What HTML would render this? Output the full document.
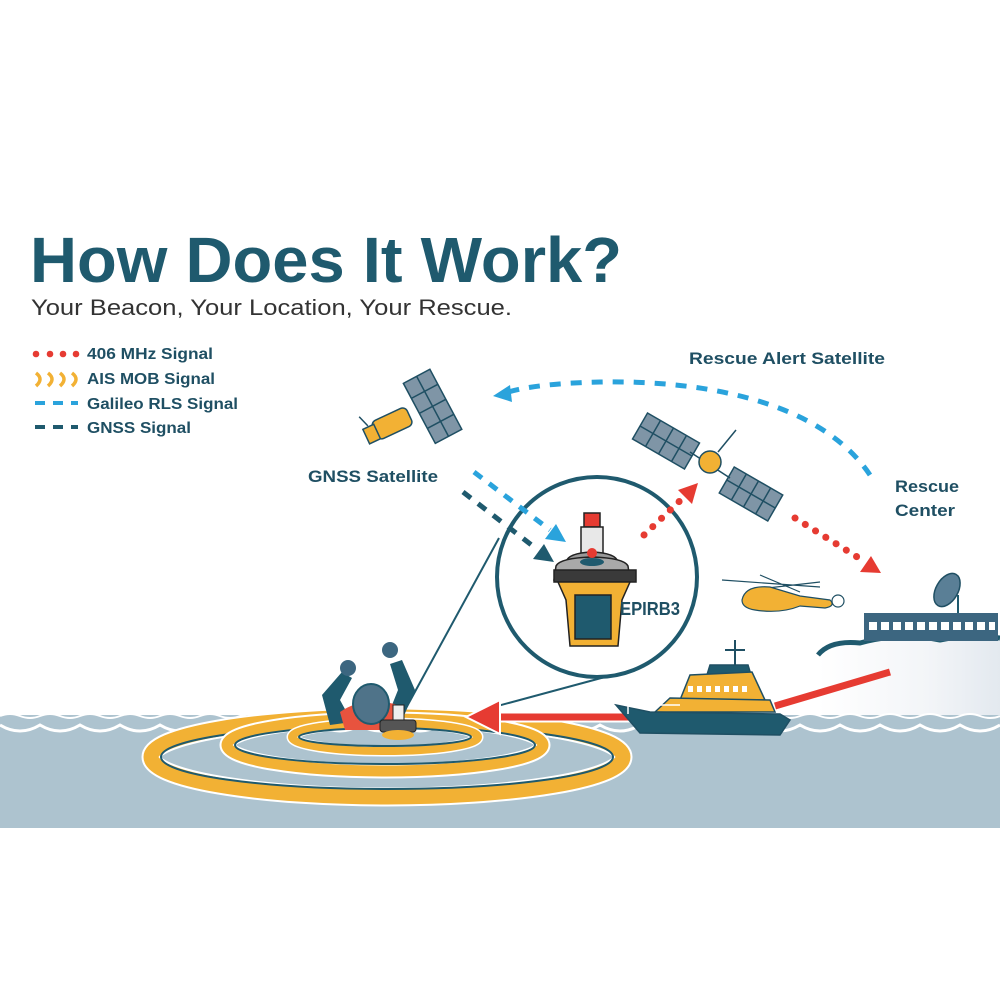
<!DOCTYPE html>
<html><head><meta charset="utf-8"><style>
html,body{margin:0;padding:0;background:#fff;width:1000px;height:1000px;overflow:hidden}
svg{display:block}
text{font-family:"Liberation Sans","DejaVu Sans",sans-serif}
</style></head><body>
<svg width="1000" height="1000" viewBox="0 0 1000 1000" xmlns="http://www.w3.org/2000/svg">
<defs>
<linearGradient id="cliff" x1="0" x2="1" y1="0" y2="0"><stop offset="0" stop-color="#fff"/><stop offset="0.6" stop-color="#f3f5f8"/><stop offset="1" stop-color="#e3e9ef"/></linearGradient>
</defs>
<!-- Title -->
<text x="30" y="282" font-size="64" font-weight="bold" fill="#1f5a6e" textLength="592" lengthAdjust="spacingAndGlyphs">How Does It Work?</text>
<text x="31" y="315" font-size="22" fill="#333" textLength="481" lengthAdjust="spacingAndGlyphs">Your Beacon, Your Location, Your Rescue.</text>
<!-- Legend -->
<g fill="#e63b32"><circle cx="36" cy="354" r="3.3"/><circle cx="50" cy="354" r="3.3"/><circle cx="63" cy="354" r="3.3"/><circle cx="76" cy="354" r="3.3"/></g>
<g fill="none" stroke="#f2b134" stroke-width="3.5"><path d="M36,373 q8,6 0,13"/><path d="M48,373 q8,6 0,13"/><path d="M60,373 q8,6 0,13"/><path d="M72,373 q8,6 0,13"/></g>
<line x1="35" y1="403" x2="78" y2="403" stroke="#2aa3dc" stroke-width="4" stroke-dasharray="10,8"/>
<line x1="35" y1="427" x2="78" y2="427" stroke="#1f5a6e" stroke-width="4" stroke-dasharray="10,8"/>
<g font-size="16" fill="#1f4f63" font-weight="bold">
<text x="87" y="359" textLength="126" lengthAdjust="spacingAndGlyphs">406 MHz Signal</text>
<text x="87" y="384" textLength="128" lengthAdjust="spacingAndGlyphs">AIS MOB Signal</text>
<text x="87" y="409" textLength="151" lengthAdjust="spacingAndGlyphs">Galileo RLS Signal</text>
<text x="87" y="433" textLength="104" lengthAdjust="spacingAndGlyphs">GNSS Signal</text>
<text x="308" y="482" font-size="17" textLength="130" lengthAdjust="spacingAndGlyphs">GNSS Satellite</text>
<text x="689" y="364" font-size="17" textLength="196" lengthAdjust="spacingAndGlyphs">Rescue Alert Satellite</text>
<text x="895" y="492" font-size="17" textLength="64" lengthAdjust="spacingAndGlyphs">Rescue</text>
<text x="895" y="516" font-size="17" textLength="60" lengthAdjust="spacingAndGlyphs">Center</text>
</g>
<!-- GNSS satellite -->
<g stroke="#1f4f63" stroke-width="1.5">
<g transform="translate(433,405) rotate(-28)"><rect x="-16" y="-33" width="30" height="68" fill="#7f95a6"/><path d="M-16,-16H14M-16,1H14M-16,18H14M-1,-33V35" fill="none"/></g>
<g transform="translate(393,423) rotate(-25)"><rect x="-20" y="-10" width="38" height="20" rx="5" fill="#f2b134"/><rect x="-30" y="-7" width="12" height="16" fill="#f2b134"/><line x1="-24" y1="-8" x2="-28" y2="-20"/></g>
</g>
<!-- Rescue alert satellite -->
<g stroke="#1f4f63" stroke-width="1.5">
<g transform="translate(666,441) rotate(30)"><rect x="-30" y="-15" width="60" height="30" fill="#7f95a6"/><path d="M-15,-15V15M0,-15V15M15,-15V15M-30,0H30" fill="none"/></g>
<g transform="translate(751,494) rotate(30)"><rect x="-28" y="-15" width="56" height="30" fill="#7f95a6"/><path d="M-14,-15V15M0,-15V15M14,-15V15M-28,0H28" fill="none"/></g>
<line x1="690" y1="452" x2="730" y2="478"/>
<circle cx="710" cy="462" r="11" fill="#f2b134"/><line x1="718" y1="452" x2="736" y2="430"/>
</g>
<!-- blue arc -->
<path d="M870,475 C820,400 700,380 600,382 C550,383 520,388 505,393" fill="none" stroke="#2aa3dc" stroke-width="5" stroke-dasharray="11,10"/>
<path d="M493,396 L510,385 L512,402z" fill="#2aa3dc"/>
<!-- lines from circle to person -->
<line x1="499" y1="538" x2="405" y2="710" stroke="#1f5a6e" stroke-width="2"/>
<line x1="605" y1="677" x2="390" y2="735" stroke="#1f5a6e" stroke-width="2"/>
<!-- circle -->
<circle cx="597" cy="577" r="100" fill="#fff" stroke="#1f5a6e" stroke-width="4"/>
<!-- red dotted -->
<line x1="644" y1="535" x2="686" y2="495" stroke="#e63b32" stroke-width="7" stroke-linecap="round" stroke-dasharray="0.1,12"/>
<path d="M698,483 L678,490 L692,504z" fill="#e63b32"/>
<line x1="795" y1="518" x2="862" y2="560" stroke="#e63b32" stroke-width="7" stroke-linecap="round" stroke-dasharray="0.1,12"/>
<path d="M881,573 L860,572 L871,556z" fill="#e63b32"/>
<!-- gnss signals -->
<line x1="474" y1="472" x2="550" y2="530" stroke="#2aa3dc" stroke-width="5" stroke-dasharray="10,9"/>
<path d="M566,542 L545,539 L556,524z" fill="#2aa3dc"/>
<line x1="463" y1="492" x2="538" y2="550" stroke="#1f5a6e" stroke-width="5" stroke-dasharray="10,9"/>
<path d="M554,562 L533,559 L544,544z" fill="#1f5a6e"/>
<!-- EPIRB -->
<g stroke="#222" stroke-width="1.5">
<rect x="584" y="513" width="16" height="14" fill="#e63b32"/>
<rect x="581" y="527" width="22" height="28" fill="#e8e8e8"/>
<path d="M566,562 Q568,553 592,552 Q616,553 618,562z" fill="#999"/>
<path d="M556,566 Q560,558 592,557 Q624,558 628,566 L630,580 L554,580z" fill="#a9a9a9"/>
<rect x="554" y="570" width="82" height="12" fill="#3a3a3a"/>
<path d="M558,582 L630,582 L622,600 L618,646 L570,646 L566,600z" fill="#f2b134"/>
<rect x="575" y="595" width="36" height="44" fill="#1f5a6e"/>
</g>
<ellipse cx="592" cy="562" rx="12" ry="4" fill="#1f5a6e"/>
<circle cx="592" cy="553" r="5" fill="#e63b32"/>
<text x="620" y="615" font-size="18" font-weight="bold" fill="#1f4f63" textLength="60" lengthAdjust="spacingAndGlyphs">EPIRB3</text>
<!-- helicopter -->
<g stroke="#1f4f63" stroke-width="1.2">
<path d="M722,580 L820,587 M760,575 L800,592 M750,590 L820,582" fill="none"/>
<path d="M742,600 Q745,585 770,587 L800,596 L830,600 Q836,606 825,608 L800,606 Q780,614 755,610 Q742,608 742,600z" fill="#f2b134"/>
<circle cx="838" cy="601" r="6" fill="#fff"/>
</g>
<!-- building / cliff -->
<path d="M818,655 Q830,640 860,643 Q900,635 940,642 Q970,636 1000,640 L1000,720 L818,720z" fill="url(#cliff)"/>
<path d="M818,655 Q830,640 860,643 Q900,632 940,640 Q970,634 1000,638" fill="none" stroke="#1f5a6e" stroke-width="5"/>
<rect x="864" y="613" width="134" height="28" fill="#3c6680"/>
<g fill="#fff"><rect x="869" y="622" width="8" height="8"/><rect x="881" y="622" width="8" height="8"/><rect x="893" y="622" width="8" height="8"/><rect x="905" y="622" width="8" height="8"/><rect x="917" y="622" width="8" height="8"/><rect x="929" y="622" width="8" height="8"/><rect x="941" y="622" width="8" height="8"/><rect x="953" y="622" width="8" height="8"/><rect x="965" y="622" width="8" height="8"/><rect x="977" y="622" width="8" height="8"/><rect x="989" y="622" width="6" height="8"/></g>
<line x1="958" y1="595" x2="958" y2="613" stroke="#1f5a6e" stroke-width="2"/>
<ellipse cx="947" cy="590" rx="11" ry="18" transform="rotate(30 947 590)" fill="#5a7f96" stroke="#1f4f63" stroke-width="1.5"/>
<!-- water -->
<rect x="0" y="715" width="1000" height="113" fill="#adc3cf"/>
<path d="M0,716 q10,-4 20,0 t20,0 t20,0 t20,0 t20,0 t20,0 t20,0 t20,0 t20,0 t20,0 t20,0 t20,0 t20,0 t20,0 t20,0 t20,0 t20,0 t20,0 t20,0 t20,0 t20,0 t20,0 t20,0 t20,0 t20,0 t20,0 t20,0 t20,0 t20,0 t20,0 t20,0 t20,0 t20,0 t20,0 t20,0 t20,0 t20,0 t20,0 t20,0 t20,0 t20,0 t20,0 t20,0 t20,0 t20,0 t20,0 t20,0 t20,0 t20,0 t20,0" fill="none" stroke="#fff" stroke-width="2"/>
<path d="M0,725 q20,12 40,0 q20,12 40,0 q20,12 40,0 q20,12 40,0 q20,12 40,0 q20,12 40,0 q20,12 40,0 q20,12 40,0 q20,12 40,0 q20,12 40,0 q20,12 40,0 q20,12 40,0 q20,12 40,0 q20,12 40,0 q20,12 40,0 q20,12 40,0 q20,12 40,0 q20,12 40,0 q20,12 40,0 q20,12 40,0 q20,12 40,0 q20,12 40,0 q20,12 40,0 q20,12 40,0 q20,12 40,0" fill="none" stroke="#fff" stroke-width="3"/>
<!-- ripples -->
<g fill="none">
<ellipse cx="387" cy="757" rx="236" ry="40" stroke="#fff" stroke-width="19"/>
<ellipse cx="387" cy="757" rx="236" ry="40" stroke="#f2b134" stroke-width="15"/>
<ellipse cx="387" cy="757" rx="226" ry="32" stroke="#1f5a6e" stroke-width="2"/>
<ellipse cx="385" cy="745" rx="158" ry="26" stroke="#fff" stroke-width="15"/>
<ellipse cx="385" cy="745" rx="158" ry="26" stroke="#f2b134" stroke-width="11"/>
<ellipse cx="385" cy="745" rx="150" ry="19" stroke="#1f5a6e" stroke-width="2"/>
<ellipse cx="385" cy="737" rx="93" ry="14" stroke="#fff" stroke-width="11"/>
<ellipse cx="385" cy="737" rx="93" ry="14" stroke="#f2b134" stroke-width="8"/>
<ellipse cx="385" cy="737" rx="86" ry="9" stroke="#1f5a6e" stroke-width="2"/>
</g>
<!-- person -->
<g>
<path d="M330,725 L322,695 L342,672 L352,678 L340,700 L352,722z" fill="#1f5a6e"/>
<path d="M400,725 L415,690 L402,660 L390,664 L398,690 L386,720z" fill="#1f5a6e"/>
<circle cx="348" cy="668" r="8" fill="#3c6680"/><circle cx="390" cy="650" r="8" fill="#3c6680"/>
<path d="M340,712 Q365,695 398,705 L398,730 L345,730z" fill="#e8533e"/>
<ellipse cx="371" cy="704" rx="18" ry="20" fill="#4f7389" stroke="#1f5a6e" stroke-width="2"/>
<rect x="393" y="705" width="11" height="16" fill="#eee" stroke="#222"/>
<rect x="380" y="720" width="36" height="12" rx="3" fill="#555" stroke="#222"/>
<ellipse cx="398" cy="735" rx="16" ry="5" fill="#f2b134"/>
</g>
<!-- red arrows -->
<line x1="890" y1="672" x2="775" y2="706" stroke="#e63b32" stroke-width="7"/>
<line x1="500" y1="717" x2="640" y2="717" stroke="#fff" stroke-width="11"/>
<line x1="495" y1="717" x2="640" y2="717" stroke="#e63b32" stroke-width="7"/>
<path d="M466,717 L500,700 L500,734z" fill="#e63b32" stroke="#fff" stroke-width="2"/>
<!-- boat -->
<g stroke="#1f4f63" stroke-width="1.5">
<path d="M735,640 V668 M725,650 H745" fill="none" stroke-width="2"/>
<path d="M710,665 H748 L752,678 H706z" fill="#1f5a6e"/>
<path d="M680,700 L690,675 L752,672 L765,700z" fill="#f2b134"/>
<path d="M655,712 L670,698 L770,700 L775,712z" fill="#f2b134"/>
<path d="M616,705 L650,712 L780,714 L790,720 L780,735 L640,733z" fill="#1f5a6e"/>
<path d="M628,705 V714 M628,705 H680" fill="none" stroke="#fff"/>
</g>
<g fill="#fff"><rect x="688" y="686" width="5" height="6"/><rect x="697" y="686" width="5" height="6"/><rect x="706" y="686" width="5" height="6"/><rect x="715" y="686" width="5" height="6"/><rect x="724" y="686" width="5" height="6"/><rect x="733" y="686" width="5" height="6"/><rect x="742" y="686" width="5" height="6"/></g>
</svg>
</body></html>
